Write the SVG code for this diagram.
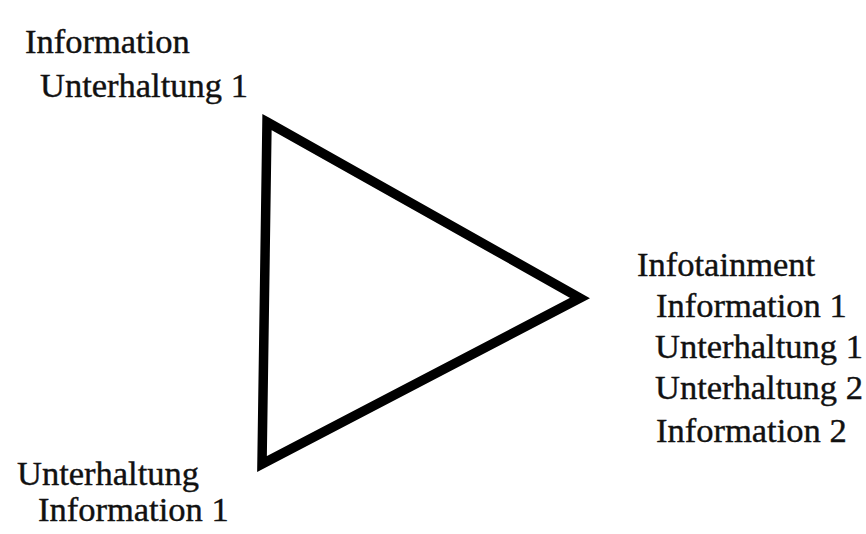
<svg xmlns="http://www.w3.org/2000/svg" width="866" height="534" viewBox="0 0 866 534">
<style>
text{font-family:"Liberation Serif","Times New Roman",serif;font-size:34.5px;fill:#111;stroke:#111;stroke-width:0.4}
.tri{fill:none;stroke:#000;stroke-width:9.5;stroke-linejoin:miter}
</style>
<rect width="866" height="534" fill="#fff"/>
<g id="connectors">
<polygon class="tri" points="267,122 580,298 262,464"/>
</g>
<g id="node-top">
<text x="25" y="53">Information</text>
<text x="40" y="97">Unterhaltung 1</text>
</g>
<g id="node-right">
<text x="637" y="276">Infotainment</text>
<text x="656" y="317">Information 1</text>
<text x="655" y="358">Unterhaltung 1</text>
<text x="655" y="399">Unterhaltung 2</text>
<text x="656" y="442">Information 2</text>
</g>
<g id="node-bottom">
<text x="17" y="485">Unterhaltung</text>
<text x="38" y="521">Information 1</text>
</g>
</svg>
